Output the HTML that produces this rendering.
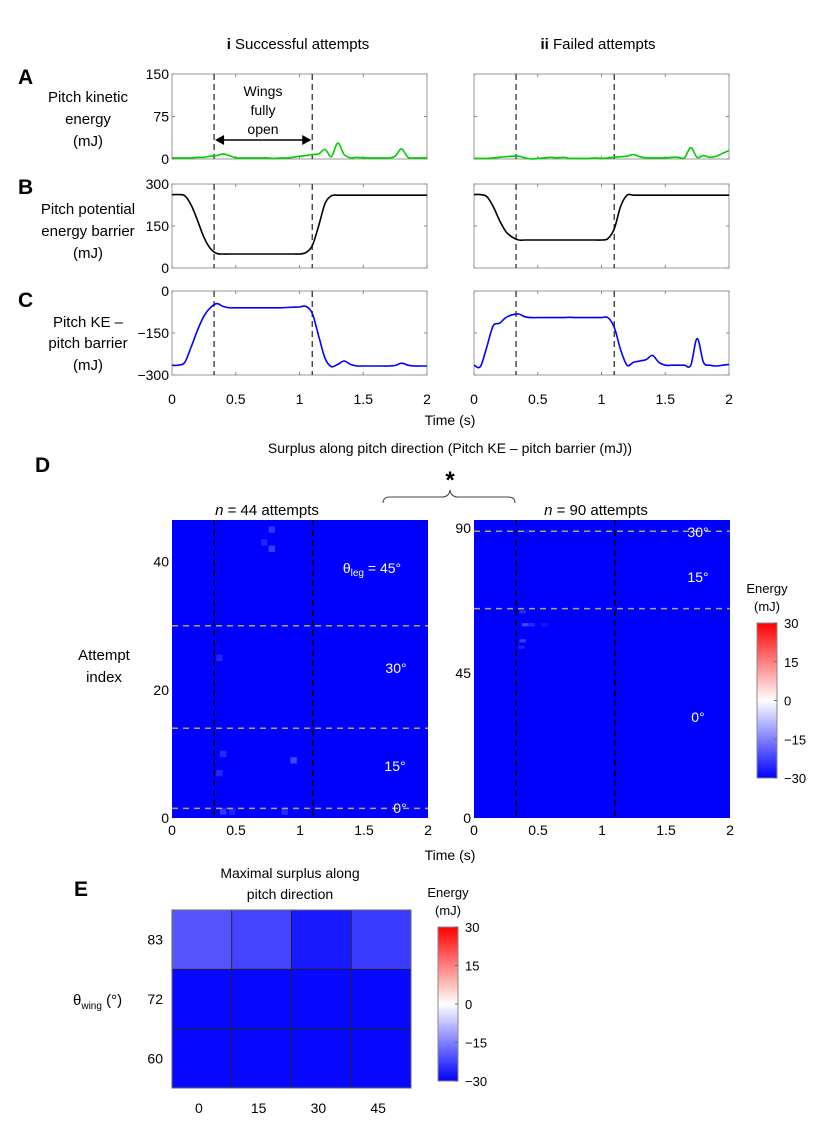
<!DOCTYPE html>
<html><head><meta charset="utf-8"><style>
html,body{margin:0;padding:0;background:#fff;}
svg{display:block;font-family:"Liberation Sans",sans-serif;}
</style></head><body>
<svg id="fig" width="830" height="1142" viewBox="0 0 830 1142" xmlns="http://www.w3.org/2000/svg">
<defs>
<linearGradient id="cmap" x1="0" y1="1" x2="0" y2="0">
<stop offset="0" stop-color="#0000ff"/><stop offset="0.5" stop-color="#ffffff"/><stop offset="1" stop-color="#ff0000"/>
</linearGradient>
</defs>
<g font-size="15" fill="#000">
<text x="298" y="49" text-anchor="middle"><tspan font-weight="bold">i</tspan> Successful attempts</text>
<text x="598" y="49" text-anchor="middle"><tspan font-weight="bold">ii</tspan> Failed attempts</text>
<text x="18" y="84" font-size="21" font-weight="bold">A</text>
<text x="18" y="194" font-size="21" font-weight="bold">B</text>
<text x="18" y="307" font-size="21" font-weight="bold">C</text>
<text x="35" y="472" font-size="21" font-weight="bold">D</text>
<text x="74" y="896" font-size="21" font-weight="bold">E</text>
<text text-anchor="middle"><tspan x="88" y="102">Pitch kinetic</tspan><tspan x="88" y="124">energy</tspan><tspan x="88" y="146">(mJ)</tspan></text>
<text text-anchor="middle"><tspan x="88" y="214">Pitch potential</tspan><tspan x="88" y="236">energy barrier</tspan><tspan x="88" y="258">(mJ)</tspan></text>
<text text-anchor="middle"><tspan x="88" y="327">Pitch KE –</tspan><tspan x="88" y="348">pitch barrier</tspan><tspan x="88" y="370">(mJ)</tspan></text>
<text x="450" y="425" text-anchor="middle" font-size="14">Time (s)</text>
<text x="450" y="453" text-anchor="middle" font-size="14">Surplus along pitch direction (Pitch KE – pitch barrier (mJ))</text>
<text x="450" y="488" text-anchor="middle" font-size="24" font-weight="bold">*</text>
<path d="M383,503 Q383,497 390,497 L442,497 Q449,497 450,490 Q451,497 458,497 L508,497 Q515,497 515,503" fill="none" stroke="#444" stroke-width="1"/>
<text x="267" y="515" text-anchor="middle" font-size="15"><tspan font-style="italic">n</tspan> = 44 attempts</text>
<text x="596" y="515" text-anchor="middle" font-size="15"><tspan font-style="italic">n</tspan> = 90 attempts</text>
<text text-anchor="middle"><tspan x="104" y="660">Attempt</tspan><tspan x="104" y="682">index</tspan></text>
<text x="450" y="860" text-anchor="middle" font-size="14">Time (s)</text>
<text text-anchor="middle" font-size="14"><tspan x="290" y="878">Maximal surplus along</tspan><tspan x="290" y="899">pitch direction</tspan></text>
<text x="73" y="1005" font-size="15">θ<tspan font-size="10" dy="4">wing</tspan><tspan dy="-4"> (°)</tspan></text>
</g>
<g id="root"></g>
</svg>
<script>
// ---- data ----
const tGrid = [0,0.05,0.1,0.15,0.2,0.25,0.3,0.35,0.4,0.45,0.5,0.55,0.6,0.65,0.7,0.75,0.8,0.85,0.9,0.95,1.0,1.05,1.1,1.15,1.2,1.25,1.3,1.35,1.4,1.45,1.5,1.55,1.6,1.65,1.7,1.75,1.8,1.85,1.9,1.95,2.0];
const keSuccess = [2,2,2,2,3,3,5,6,9,6,2,2,2,2,2,2,1,2,2,3,5,6,8,9,17,4,28,8,2,3,2,2,2,2,2,5,18,3,2,2,2];
const keFail = [1,1,1,2,3,4,5,5,2,0,1,2,3,2,3,1,1,1,1,2,1,2,3,4,5,8,4,2,2,2,2,3,3,2,20,3,6,3,5,10,15];
const barrierSuccess = [262,262,258,225,170,110,70,52,50,50,50,50,50,50,50,50,50,50,50,50,50,55,80,150,230,258,260,260,260,260,260,260,260,260,260,260,260,260,260,260,260];
const barrierFail = [262,262,255,220,170,130,110,100,100,100,100,100,100,100,100,100,100,100,100,100,100,105,140,220,260,260,260,260,260,260,260,260,260,260,260,260,260,260,260,260,260];
const surplusSuccess = [-265,-265,-255,-200,-140,-90,-60,-45,-55,-60,-60,-60,-60,-60,-60,-60,-60,-60,-59,-58,-57,-55,-80,-160,-240,-270,-262,-250,-262,-268,-268,-268,-268,-268,-268,-266,-258,-265,-268,-268,-268];
const surplusFail = [-265,-270,-200,-125,-115,-95,-85,-82,-92,-95,-95,-95,-95,-95,-95,-94,-95,-95,-95,-95,-95,-95,-130,-210,-265,-255,-250,-245,-230,-255,-265,-265,-265,-265,-265,-170,-255,-265,-268,-265,-262];
const wingOpenTimes = [0.33,1.1];
const timeTicks = [0,0.5,1,1.5,2];
const ticksA = [0,75,150], ticksB = [0,150,300], ticksC = [-300,-150,0];
// heatmap spots: [time, attempt, energy]
const spotsSuccess = [[0.4,1,-24],[0.47,1,-26],[0.88,1,-25],[0.37,7,-26],[0.4,10,-25],[0.95,9,-22],[0.37,25,-26],[0.72,43,-26],[0.78,45,-24],[0.78,42,-23]];
const spotsFail = [[0.38,64,-25],[0.4,60,-22],[0.45,60,-25],[0.55,60,-27],[0.38,55,-23],[0.37,53,-26],[0.42,89,-27]];
const legBoundSuccess = [1.5,14,30], legBoundFail = [65,89];
const ticksDL = [0,20,40], ticksDR = [0,45,90];
const legAngles = ["0","15","30","45"], wingAngles = ["83","72","60"];
const maxSurplus = [[-20,-22,-27,-23],[-29,-29,-29,-29],[-29,-29,-29,-29]];
const cbarTicks = [30,15,0,-15,-30];

const NS = "http://www.w3.org/2000/svg";
const root = document.getElementById('root');
function mk(tag, attrs, parent, text){
  const e = document.createElementNS(NS, tag);
  for (const k in attrs) e.setAttribute(k, attrs[k]);
  if (text !== undefined) e.textContent = text;
  (parent||root).appendChild(e); return e;
}
function cmap(v){
  const f = Math.max(-1, Math.min(1, v/30));
  let r,g,b;
  if (f<0){ const a=1+f; r=g=Math.round(255*a); b=255; } else { const a=1-f; r=255; g=b=Math.round(255*a); }
  return `rgb(${r},${g},${b})`;
}
function smoothPath(pts){
  let d = `M${pts[0][0]},${pts[0][1]}`;
  for (let i=0;i<pts.length-1;i++){
    const p0=pts[Math.max(0,i-1)], p1=pts[i], p2=pts[i+1], p3=pts[Math.min(pts.length-1,i+2)];
    const c1=[p1[0]+(p2[0]-p0[0])/6, p1[1]+(p2[1]-p0[1])/6];
    const c2=[p2[0]-(p3[0]-p1[0])/6, p2[1]-(p3[1]-p1[1])/6];
    d += ` C${c1[0].toFixed(1)},${c1[1].toFixed(1)} ${c2[0].toFixed(1)},${c2[1].toFixed(1)} ${p2[0].toFixed(1)},${p2[1].toFixed(1)}`;
  }
  return d;
}

function linePanel(name, x0, y0, w, h, ymin, ymax, series, color, yticks, showY, showX){
  const g = mk('g', {});
  
  
  const xs = t => x0 + t/2*w;
  const ys = v => y0 + h - (v-ymin)/(ymax-ymin)*h;
  const fr = mk('rect', {x:x0,y:y0,width:w,height:h,fill:'#fff',stroke:'#999','stroke-width':1}, g);
  
  
  for (const t of timeTicks){ mk('line',{x1:xs(t),x2:xs(t),y1:y0+h,y2:y0+h-3,stroke:'#888'},g); mk('line',{x1:xs(t),x2:xs(t),y1:y0,y2:y0+3,stroke:'#888'},g); }
  for (const v of yticks){
    mk('line',{x1:x0,x2:x0+3,y1:ys(v),y2:ys(v),stroke:'#888'},g);
    mk('line',{x1:x0+w,x2:x0+w-3,y1:ys(v),y2:ys(v),stroke:'#888'},g);
    if (showY){
      const tl = mk('text',{x:x0-3,y:ys(v)+5,'text-anchor':'end','font-size':14},g,(v<0?'−':'')+Math.abs(v));
      
      
    }
  }
  for (const t of wingOpenTimes){
    const dl = mk('line',{x1:xs(t),x2:xs(t),y1:y0,y2:y0+h,stroke:'#333','stroke-width':1.3,'stroke-dasharray':'6,4'},g);
    
    
  }
  const pts = tGrid.map((t,i)=>[xs(t), ys(series[i])]);
  const p = mk('path',{d:smoothPath(pts),fill:'none',stroke:color,'stroke-width':1.6},g);
  
  
  if (showX){
    for (const t of timeTicks){
      const tl = mk('text',{x:xs(t),y:y0+h+29,'text-anchor':'middle','font-size':14},g,String(t));
      
      
    }
  }
  return {xs, ys};
}
const LX=172, RX=474, W=255;
const a = linePanel('panel-a-successful', LX, 74, W, 85, 0, 150, keSuccess, '#00cc00', ticksA, true, false);
linePanel('panel-a-failed', RX, 74, W, 85, 0, 150, keFail, '#00cc00', ticksA, false, false);
linePanel('panel-b-successful', LX, 184, W, 84, 0, 300, barrierSuccess, '#000', ticksB, true, false);
linePanel('panel-b-failed', RX, 184, W, 84, 0, 300, barrierFail, '#000', ticksB, false, false);
linePanel('panel-c-successful', LX, 291, W, 84, -300, 0, surplusSuccess, '#0000ff', ticksC, true, true);
linePanel('panel-c-failed', RX, 291, W, 84, -300, 0, surplusFail, '#0000ff', ticksC, false, true);
// wings annotation
const ann = mk('g',{});


mk('text',{'text-anchor':'middle','font-size':14},ann).innerHTML = '<tspan x="263" y="96">Wings</tspan><tspan x="263" y="115">fully</tspan><tspan x="263" y="134">open</tspan>';
const ax1=a.xs(wingOpenTimes[0])+1, ax2=a.xs(wingOpenTimes[1])-1;
mk('line',{x1:ax1+7,x2:ax2-7,y1:140,y2:140,stroke:'#000','stroke-width':1.5},ann);
mk('path',{d:`M${ax1},140 l9,-5 v10 z M${ax2},140 l-9,-5 v10 z`,fill:'#000'},ann);

function heatPanel(name, x0, y0, w, h, nmax, spots, bounds, ticks, labels){
  const g = mk('g', {});
  
  
  const xs = t => x0 + t/2*w;
  const ys = v => y0 + h - v/nmax*h;
  const bg = mk('rect',{x:x0,y:y0,width:w,height:h,fill:'#0000ff'},g);
  
  
  const cw = w/2*0.025*2, ch = h/nmax;
  for (const s of spots){
    const c = mk('rect',{x:xs(s[0])-cw/2,y:ys(s[1]+0.5),width:cw,height:ch,fill:cmap(s[2])},g);
    
    
  }
  for (const b of bounds){
    const l = mk('line',{x1:x0,x2:x0+w,y1:ys(b),y2:ys(b),stroke:'#b0a860','stroke-width':1.5,'stroke-dasharray':'6,5'},g);
    
    
  }
  for (const t of wingOpenTimes){
    const l = mk('line',{x1:xs(t),x2:xs(t),y1:y0,y2:y0+h,stroke:'#000','stroke-width':1.5,'stroke-dasharray':'6,4'},g);
    
    
  }
  for (const v of ticks){
    const tl = mk('text',{x:x0-3,y:ys(v)+5,'text-anchor':'end','font-size':14},g,String(v));
    
    
  }
  for (const t of timeTicks){
    const tl = mk('text',{x:xs(t),y:y0+h+17,'text-anchor':'middle','font-size':14},g,String(t));
    
    
  }
  for (const L of labels){
    const tl = mk('text',{x:L[0],y:L[1],'text-anchor':'middle','font-size':14,fill:'#fff'},g);
    tl.innerHTML = L[2];
    
    
  }
}
heatPanel('panel-d-successful', 172, 520, 256, 298, 46.5, spotsSuccess, legBoundSuccess, ticksDL,
  [[372,573,'θ<tspan font-size="10" dy="3">leg</tspan><tspan dy="-3"> = 45°</tspan>'],[396,673,'30°'],[395,771,'15°'],[400,813,'0°']]);
heatPanel('panel-d-failed', 474, 520, 256, 298, 92.5, spotsFail, legBoundFail, ticksDR,
  [[698,537,'30°'],[698,582,'15°'],[698,722,'0°']]);

function colorbar(name, x, y, w, h){
  const g = mk('g', {});
  
  
  mk('text',{'text-anchor':'middle','font-size':13},g).innerHTML = `<tspan x="${x+w/2}" y="${y-30}">Energy</tspan><tspan x="${x+w/2}" y="${y-12}">(mJ)</tspan>`;
  mk('rect',{x:x,y:y,width:w,height:h,fill:'url(#cmap)',stroke:'#888'},g);
  cbarTicks.forEach((v,i)=>{
    const yy = y + (30-v)/60*h;
    mk('line',{x1:x+w-3,x2:x+w,y1:yy,y2:yy,stroke:'#666'},g);
    const tl = mk('text',{x:x+w+7,y:yy+5,'font-size':13},g,(v<0?'−':'')+Math.abs(v));
    
    
  });
}
colorbar('colorbar-d', 757, 623, 20, 155);
colorbar('colorbar-e', 438, 927, 20, 154);

// panel E
const ge = mk('g',{});


const EX=172, EY=910, EW=239, EH=178;
const cwE = EW/legAngles.length, chE = EH/wingAngles.length;
maxSurplus.forEach((row,r)=>row.forEach((v,c)=>{
  const cell = mk('rect',{x:EX+c*cwE,y:EY+r*chE,width:cwE,height:chE,fill:cmap(v),stroke:'#222','stroke-width':0.8},ge);
  
  
}));
mk('rect',{x:EX,y:EY,width:EW,height:EH,fill:'none',stroke:'#666'},ge);
wingAngles.forEach((s,r)=>{
  const tl = mk('text',{x:EX-9,y:EY+(r+0.5)*chE+5,'text-anchor':'end','font-size':14},ge,s);
  
  
});
legAngles.forEach((s,c)=>{
  const tl = mk('text',{x:EX+(c+0.5)*cwE-3,y:1113,'text-anchor':'middle','font-size':14},ge,s);
  
  
});
</script>
</body></html>
